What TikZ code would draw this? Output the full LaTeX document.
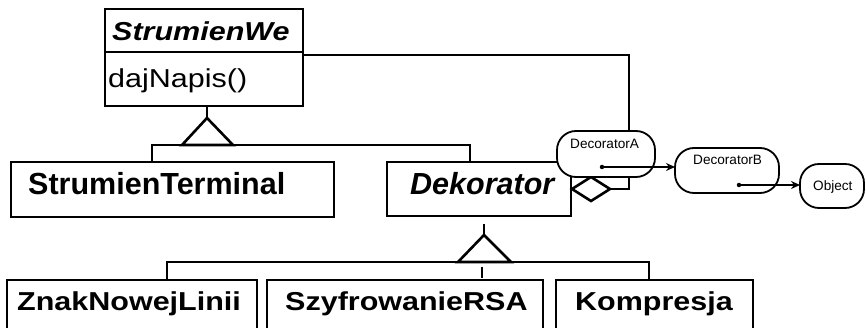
\documentclass[tikz,border=0pt]{standalone}
\usepackage{graphicx}
\usepackage{fontspec}
\setmainfont{Liberation Sans}
\usetikzlibrary{arrows.meta}
\begin{document}
\begin{tikzpicture}[x=1pt,y=-1pt,
  cls/.style={draw, line width=2.6pt, rectangle, inner sep=0, outer sep=0, anchor=north west, fill=white},
  lbl/.style={anchor=base west, inner sep=0, font=\fontsize{30.5}{36}\selectfont\bfseries},
  lblr/.style={anchor=base west, inner sep=0, font=\fontsize{30.5}{36}\selectfont},
  objbox/.style={draw, line width=1.8pt, rounded corners=19pt, fill=white, inner sep=0, outer sep=0, anchor=north west},
  small/.style={anchor=base west, inner sep=0, font=\fontsize{13.6}{16}\selectfont},
  conn/.style={line width=2.6pt},
  ptr/.style={line width=1.4pt, -{Stealth[length=9pt,width=8pt]}},
  dotp/.style={circle, fill, inner sep=0, minimum size=4.5pt},
]
\useasboundingbox (0,0) rectangle (866,328);
\clip (0,0) rectangle (866,328);

% class boxes
\node[cls, minimum width=198pt, minimum height=97pt] (we) at (105,9) {};
\node[cls, minimum width=323pt, minimum height=55pt] (term) at (11,162) {};
\node[cls, minimum width=184pt, minimum height=54pt] (dek) at (387,162) {};
\node[cls, minimum width=250pt, minimum height=60pt] (znak) at (7,280) {};
\node[cls, minimum width=276pt, minimum height=60pt] (rsa) at (267,280) {};
\node[cls, minimum width=197pt, minimum height=60pt] (komp) at (556,280) {};

% divider in StrumienWe
\coordinate (dv) at (0,52);
\draw[conn] (we.west |- dv) -- (we.east |- dv);

% texts
\node[lbl] (tWe) at (112,41) {\scalebox{1}[0.85]{\itshape StrumienWe}};
\node[lblr] (tNap) at (108,88) {\scalebox{1}[0.85]{dajNapis()}};
\node[lbl] (tTerm) at (28,195) {StrumienTerminal};
\node[lbl] (tDek) at (410,195) {\itshape Dekorator};
\node[lbl] (tZnak) at (17,310) {\scalebox{1}[0.85]{ZnakNowejLinii}};
\node[lbl] (tRsa) at (285,310) {\scalebox{1}[0.85]{SzyfrowanieRSA}};
\node[lbl] (tKomp) at (575,310) {\scalebox{1}[0.85]{Kompresja}};

% inheritance 1
\coordinate (a1) at (207,118);
\coordinate (b1l) at (182,145);
\coordinate (b1r) at (233,145);
\coordinate (h1l) at (152,145);
\coordinate (h1r) at (470,145);
\draw[conn] (a1 |- we.south) -- (a1);
\draw[conn] (term.north -| h1l) -- (h1l) -- (h1r) -- (dek.north -| h1r);
\draw[conn, line join=miter, fill=white] (a1) -- (b1l) -- (b1r) -- cycle;

% inheritance 2
\coordinate (a2) at (484,235);
\coordinate (a2s) at (484,224);
\coordinate (b2l) at (458,262);
\coordinate (b2r) at (511,262);
\coordinate (h2l) at (167,262);
\coordinate (h2r) at (649,262);
\coordinate (st1) at (482,267);
\coordinate (st2) at (482,278);
\draw[conn] (a2s) -- (a2);
\draw[conn] (znak.north -| h2l) -- (h2l) -- (h2r) -- (komp.north -| h2r);
\draw[conn, line join=miter, fill=white] (a2) -- (b2l) -- (b2r) -- cycle;
\draw[conn] (st1) -- (st2);

% aggregation
\coordinate (dl) at (572,189);
\coordinate (dt) at (591,177);
\coordinate (dr) at (610,189);
\coordinate (db) at (591,201);
\coordinate (c1) at (629,189);
\coordinate (c2) at (629,55);
\draw[conn] (dr) -- (c1) -- (c2) -- (we.east |- c2);
\draw[conn, line join=miter, fill=white] (dl) -- (dt) -- (dr) -- (db) -- cycle;

% object diagram
\node[objbox, minimum width=98pt, minimum height=46pt] (decA) at (557,131) {};
\node[objbox, minimum width=104pt, minimum height=45pt] (decB) at (675,148) {};
\node[objbox, minimum width=64pt, minimum height=44pt] (obj) at (800,164) {};
\node[small] (tA) at (570,149) {DecoratorA};
\node[small] (tB) at (693,165) {DecoratorB};
\node[small] (tO) at (813,191) {Object};
\node[dotp] (pA) at (602,167) {};
\node[dotp] (pB) at (739,185) {};
\draw[ptr] (pA.center) -- (pA.center -| decB.west);
\draw[ptr] (pB.center) -- (pB.center -| obj.west);
\end{tikzpicture}
\end{document}
